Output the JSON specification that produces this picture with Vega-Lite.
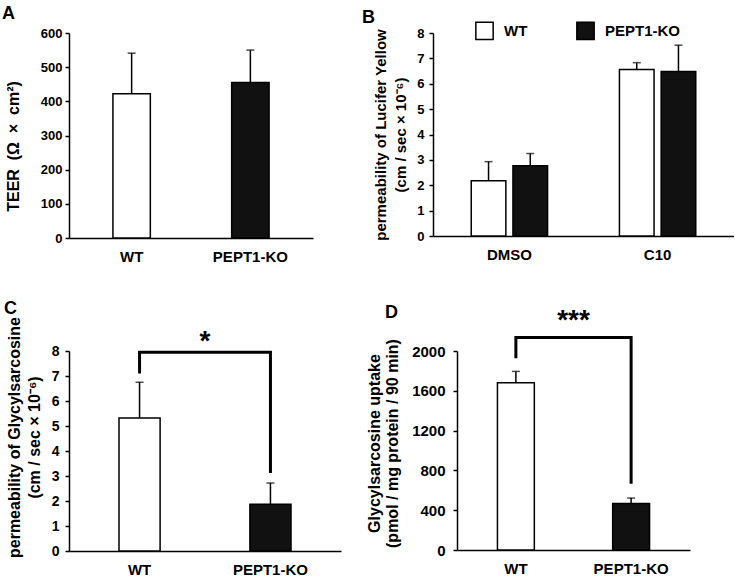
{
  "$schema": "https://vega.github.io/schema/vega-lite/v6.json",
  "background": "white",
  "padding": {"left": 2, "top": 5, "right": 0, "bottom": 0},
  "spacing": 35,
  "resolve": {"scale": {"fill": "independent", "xOffset": "independent"}, "legend": {"fill": "independent"}},
  "config": {
    "font": "Liberation Sans",
    "view": {"stroke": null},
    "axis": {"grid": false, "domainColor": "black", "domainWidth": 1.5, "tickColor": "black", "tickWidth": 1.5, "labelColor": "black", "labelFont": "Liberation Sans", "labelFontWeight": "bold", "titleFont": "Liberation Sans", "titleFontWeight": "bold", "titleColor": "black", "titleFontSize": 15, "labelOverlap": false},
    "axisX": {"ticks": false, "tickSize": 0, "labelAngle": 0, "labelFontSize": 15, "labelPadding": 11, "title": null},
    "axisY": {"tickSize": 4, "labelPadding": 3, "tickCount": 20, "format": "d"},
    "title": {"fontSize": 18, "fontWeight": "bold", "anchor": "start", "frame": "group", "color": "black", "font": "Liberation Sans"}
  },
  "vconcat": [
    {
      "bounds": "flush",
      "spacing": 120,
      "resolve": {"scale": {"fill": "independent", "xOffset": "independent"}, "legend": {"fill": "independent"}},
      "hconcat": [
        {
          "title": {"text": "A", "dx": -67},
          "width": 244,
          "height": 205,
          "data": {"values": [
            {"genotype": "WT", "mean": 422, "upper": 541},
            {"genotype": "PEPT1-KO", "mean": 455, "upper": 550}
          ]},
          "layer": [
            {
              "mark": {"type": "bar", "stroke": "black", "strokeWidth": 1.5},
              "encoding": {
                "x": {"field": "genotype", "type": "nominal", "sort": ["WT", "PEPT1-KO"], "scale": {"paddingInner": 0.685, "paddingOuter": 0.37}, "axis": {"title": null}},
                "y": {"field": "mean", "type": "quantitative", "scale": {"domain": [0, 600], "nice": false}, "axis": {"values": [0, 100, 200, 300, 400, 500, 600], "format": "d", "title": "TEER\u00a0\u00a0(Ω\u00a0\u00a0×\u00a0\u00a0cm²)", "titleFontSize": 16, "titlePadding": 19, "titleY": 113, "labelFontSize": 13}},
                "fill": {"field": "genotype", "type": "nominal", "scale": {"domain": ["WT", "PEPT1-KO"], "range": ["#ffffff", "#111111"]}, "legend": null}
              }
            },
            {
              "mark": {"type": "rule", "color": "black", "strokeWidth": 1.5},
              "encoding": {
                "x": {"field": "genotype", "type": "nominal", "sort": ["WT", "PEPT1-KO"]},
                "y": {"field": "mean", "type": "quantitative"},
                "y2": {"field": "upper"}
              }
            },
            {
              "mark": {"type": "tick", "color": "black", "thickness": 1.5, "size": 8},
              "encoding": {
                "x": {"field": "genotype", "type": "nominal", "sort": ["WT", "PEPT1-KO"]},
                "y": {"field": "upper", "type": "quantitative"}
              }
            }
          ]
        },
        {
          "title": {"text": "B", "dx": -71, "dy": 10},
          "width": 301,
          "height": 203,
          "data": {"values": [
            {"cond": "DMSO", "genotype": "WT", "mean": 2.18, "upper": 2.93},
            {"cond": "DMSO", "genotype": "PEPT1-KO", "mean": 2.77, "upper": 3.25},
            {"cond": "C10", "genotype": "WT", "mean": 6.56, "upper": 6.83},
            {"cond": "C10", "genotype": "PEPT1-KO", "mean": 6.48, "upper": 7.52}
          ]},
          "layer": [
            {
              "mark": {"type": "bar", "stroke": "black", "strokeWidth": 1.5},
              "encoding": {
                "x": {"field": "cond", "type": "nominal", "sort": ["DMSO", "C10"], "scale": {"paddingInner": 0.485, "paddingOuter": 0.258}, "axis": {"title": null}},
                "xOffset": {"field": "genotype", "type": "nominal", "sort": ["WT", "PEPT1-KO"], "scale": {"paddingInner": 0.17, "paddingOuter": 0}},
                "y": {"field": "mean", "type": "quantitative", "scale": {"domain": [0, 8], "nice": false}, "axis": {"values": [0, 1, 2, 3, 4, 5, 6, 7, 8], "format": "d", "title": ["permeability of Lucifer Yellow", "(cm / sec × 10⁻⁶)"], "titleLineHeight": 20, "titlePadding": 8, "labelPadding": 5, "labelFontSize": 13}},
                "fill": {"field": "genotype", "type": "nominal", "sort": ["WT", "PEPT1-KO"], "scale": {"domain": ["WT", "PEPT1-KO"], "range": ["#ffffff", "#111111"]}, "legend": {"orient": "none", "legendX": 42, "legendY": -12, "direction": "horizontal", "title": null, "symbolType": "square", "symbolSize": 300, "symbolStrokeColor": "black", "symbolStrokeWidth": 1.5, "labelFontSize": 15, "labelFontWeight": "bold", "labelColor": "black", "labelFont": "Liberation Sans", "labelOffset": 10, "columnPadding": 45}}
              }
            },
            {
              "mark": {"type": "rule", "color": "black", "strokeWidth": 1.5},
              "encoding": {
                "x": {"field": "cond", "type": "nominal", "sort": ["DMSO", "C10"]},
                "xOffset": {"field": "genotype", "type": "nominal", "sort": ["WT", "PEPT1-KO"]},
                "y": {"field": "mean", "type": "quantitative"},
                "y2": {"field": "upper"}
              }
            },
            {
              "mark": {"type": "tick", "color": "black", "thickness": 1.5, "size": 8},
              "encoding": {
                "x": {"field": "cond", "type": "nominal", "sort": ["DMSO", "C10"]},
                "xOffset": {"field": "genotype", "type": "nominal", "sort": ["WT", "PEPT1-KO"]},
                "y": {"field": "upper", "type": "quantitative"}
              }
            }
          ]
        }
      ]
    },
    {
      "bounds": "flush",
      "spacing": 116,
      "resolve": {"scale": {"fill": "independent"}, "legend": {"fill": "independent"}},
      "hconcat": [
        {
          "title": {"text": "C", "dx": -65, "dy": 5},
          "width": 272,
          "height": 200,
          "data": {"values": [
            {"genotype": "WT", "mean": 5.32, "upper": 6.75},
            {"genotype": "PEPT1-KO", "mean": 1.87, "upper": 2.72}
          ]},
          "layer": [
            {
              "mark": {"type": "bar", "stroke": "black", "strokeWidth": 1.5},
              "encoding": {
                "x": {"field": "genotype", "type": "nominal", "sort": ["WT", "PEPT1-KO"], "scale": {"paddingInner": 0.686, "paddingOuter": 0.382}, "axis": {"title": null}},
                "y": {"field": "mean", "type": "quantitative", "scale": {"domain": [0, 8], "nice": false}, "axis": {"values": [0, 1, 2, 3, 4, 5, 6, 7, 8], "format": "d", "title": ["permeability of Glycylsarcosine", "(cm / sec × 10⁻⁶)"], "titleFontSize": 16, "titleLineHeight": 20, "titlePadding": 9, "titleY": 86, "labelPadding": 6, "labelFontSize": 14}},
                "fill": {"field": "genotype", "type": "nominal", "scale": {"domain": ["WT", "PEPT1-KO"], "range": ["#ffffff", "#111111"]}, "legend": null}
              }
            },
            {
              "mark": {"type": "rule", "color": "black", "strokeWidth": 1.5},
              "encoding": {
                "x": {"field": "genotype", "type": "nominal", "sort": ["WT", "PEPT1-KO"]},
                "y": {"field": "mean", "type": "quantitative"},
                "y2": {"field": "upper"}
              }
            },
            {
              "mark": {"type": "tick", "color": "black", "thickness": 1.5, "size": 8},
              "encoding": {
                "x": {"field": "genotype", "type": "nominal", "sort": ["WT", "PEPT1-KO"]},
                "y": {"field": "upper", "type": "quantitative"}
              }
            },
            {
              "data": {"values": [
                {"genotype": "WT", "level": 7.1, "step": 1},
                {"genotype": "WT", "level": 7.95, "step": 2},
                {"genotype": "PEPT1-KO", "level": 7.95, "step": 3},
                {"genotype": "PEPT1-KO", "level": 3.12, "step": 4}
              ]},
              "mark": {"type": "line", "color": "black", "strokeWidth": 3, "strokeJoin": "miter", "strokeCap": "butt"},
              "encoding": {
                "x": {"field": "genotype", "type": "nominal", "sort": ["WT", "PEPT1-KO"]},
                "y": {"field": "level", "type": "quantitative"},
                "order": {"field": "step", "type": "quantitative"}
              }
            },
            {
              "data": {"values": [{"label": "*", "level": 8.36}]},
              "mark": {"type": "text", "fontSize": 28, "fontWeight": "bold", "baseline": "middle", "color": "black"},
              "encoding": {
                "text": {"field": "label"},
                "y": {"field": "level", "type": "quantitative"}
              }
            }
          ]
        },
        {
          "title": {"text": "D", "dx": -72, "dy": 19},
          "width": 233,
          "height": 199,
          "data": {"values": [
            {"genotype": "WT", "mean": 1680, "upper": 1795},
            {"genotype": "PEPT1-KO", "mean": 467, "upper": 522}
          ]},
          "layer": [
            {
              "mark": {"type": "bar", "stroke": "black", "strokeWidth": 1.5},
              "encoding": {
                "x": {"field": "genotype", "type": "nominal", "sort": ["WT", "PEPT1-KO"], "scale": {"paddingInner": 0.68, "paddingOuter": 0.351}, "axis": {"title": null}},
                "y": {"field": "mean", "type": "quantitative", "scale": {"domain": [0, 2000], "nice": false}, "axis": {"values": [0, 400, 800, 1200, 1600, 2000], "format": "d", "title": ["Glycylsarcosine uptake", "(pmol / mg protein / 90 min)"], "titleFontSize": 16, "titleLineHeight": 18, "titlePadding": 11, "titleY": 92, "labelPadding": 8, "labelFontSize": 15}},
                "fill": {"field": "genotype", "type": "nominal", "scale": {"domain": ["WT", "PEPT1-KO"], "range": ["#ffffff", "#111111"]}, "legend": null}
              }
            },
            {
              "mark": {"type": "rule", "color": "black", "strokeWidth": 1.5},
              "encoding": {
                "x": {"field": "genotype", "type": "nominal", "sort": ["WT", "PEPT1-KO"]},
                "y": {"field": "mean", "type": "quantitative"},
                "y2": {"field": "upper"}
              }
            },
            {
              "mark": {"type": "tick", "color": "black", "thickness": 1.5, "size": 8},
              "encoding": {
                "x": {"field": "genotype", "type": "nominal", "sort": ["WT", "PEPT1-KO"]},
                "y": {"field": "upper", "type": "quantitative"}
              }
            },
            {
              "data": {"values": [
                {"genotype": "WT", "level": 1926, "step": 1},
                {"genotype": "WT", "level": 2135, "step": 2},
                {"genotype": "PEPT1-KO", "level": 2135, "step": 3},
                {"genotype": "PEPT1-KO", "level": 666, "step": 4}
              ]},
              "mark": {"type": "line", "color": "black", "strokeWidth": 3, "strokeJoin": "miter", "strokeCap": "butt"},
              "encoding": {
                "x": {"field": "genotype", "type": "nominal", "sort": ["WT", "PEPT1-KO"]},
                "y": {"field": "level", "type": "quantitative"},
                "order": {"field": "step", "type": "quantitative"}
              }
            },
            {
              "data": {"values": [{"label": "***", "level": 2297}]},
              "mark": {"type": "text", "fontSize": 28, "fontWeight": "bold", "baseline": "middle", "color": "black"},
              "encoding": {
                "text": {"field": "label"},
                "y": {"field": "level", "type": "quantitative"}
              }
            }
          ]
        }
      ]
    }
  ]
}
